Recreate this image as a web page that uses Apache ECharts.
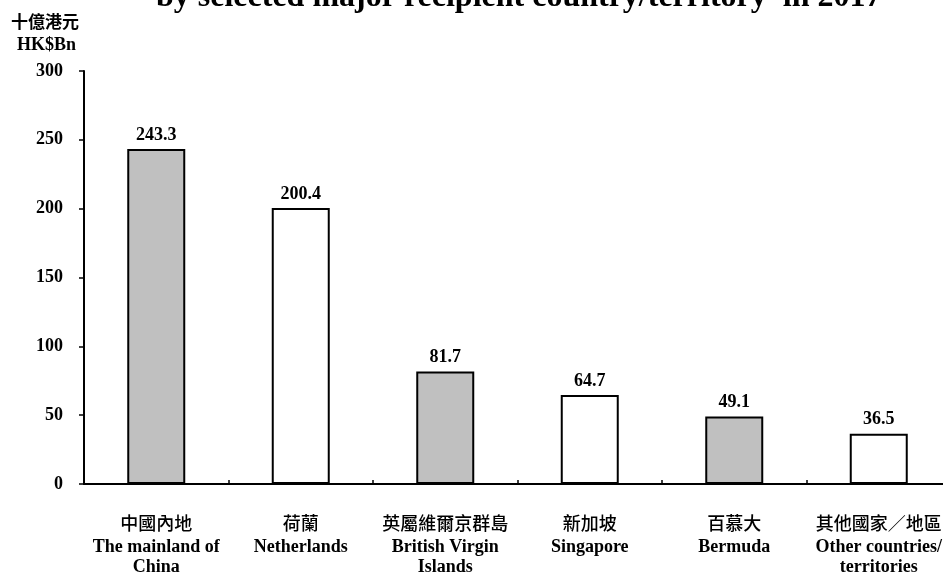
<!DOCTYPE html>
<html>
<head>
<meta charset="utf-8">
<script src="https://cdn.jsdelivr.net/npm/echarts@6/dist/echarts.min.js"></script>
<style>html,body{margin:0;padding:0;background:#fff;}#c{width:943px;height:574px;}</style>
</head>
<body>
<div id="c"></div>
<script>
const categoriesCn = ['中國內地', '荷蘭', '英屬維爾京群島', '新加坡', '百慕大', '其他國家／地區'];
const categoriesEn = ['The mainland of\nChina', 'Netherlands', 'British Virgin\nIslands', 'Singapore', 'Bermuda', 'Other countries/\nterritories'];
const values = [243.3, 200.4, 81.7, 64.7, 49.1, 36.5];
const barColors = ['#c0c0c0', '#ffffff', '#c0c0c0', '#ffffff', '#c0c0c0', '#ffffff'];
const yTicks = [0, 50, 100, 150, 200, 250, 300];

const serif = '"Liberation Serif","Times New Roman",serif';
const cjk = '"Noto Sans CJK TC","Noto Sans CJK SC",sans-serif';

const chart = echarts.init(document.getElementById('c'));
chart.setOption({
  animation: false,
  backgroundColor: '#fff',
  title: {
    text: 'by selected major recipient country/territory  in 2017',
    left: 151, top: -23,
    textStyle: { fontFamily: serif, fontWeight: 'bold', fontSize: 32, color: '#000' }
  },
  graphic: [
    { type: 'text', left: 11, top: 13, style: { text: '十億港元', font: 'bold 17px ' + cjk, fill: '#000' } },
    { type: 'text', left: 17, top: 36, style: { text: 'HK$Bn', font: 'bold 18px ' + serif, fill: '#000' } }
  ],
  grid: { left: 84, top: 71, width: 867, height: 413, containLabel: false, outerBoundsMode: 'none' },
  xAxis: {
    type: 'category',
    data: categoriesCn.map((c, i) => c + '|' + categoriesEn[i]),
    axisLine: { lineStyle: { color: '#000', width: 2 } },
    axisTick: { show: true, inside: true, length: 4, lineStyle: { color: '#000', width: 1.5 } },
    axisLabel: {
      interval: 0,
      margin: 26,
      formatter: function (v) {
        const parts = v.split('|');
        const en = parts[1].split('\n').map(s => '{en|' + s + '}').join('\n');
        return '{cn|' + parts[0] + '}\n' + en;
      },
      rich: {
        cn: { fontFamily: cjk, fontWeight: 500, fontSize: 18, color: '#000', lineHeight: 27 },
        en: { fontFamily: serif, fontWeight: 'bold', fontSize: 18, color: '#000', lineHeight: 20 }
      }
    }
  },
  yAxis: {
    type: 'value',
    min: 0, max: 300, interval: 50,
    splitLine: { show: false },
    axisLine: { show: true, lineStyle: { color: '#000', width: 2 } },
    axisTick: { show: true, length: 5, lineStyle: { color: '#000', width: 1.5 } },
    axisLabel: {
      margin: 21,
      fontFamily: serif, fontWeight: 'bold', fontSize: 18, color: '#000',
      formatter: v => yTicks.includes(v) ? String(v) : ''
    }
  },
  series: [{
    type: 'bar',
    data: values.map((v, i) => ({ value: v, itemStyle: { color: barColors[i] } })),
    barWidth: 58,
    itemStyle: { borderColor: '#000', borderWidth: 2 },
    label: {
      show: true, position: 'top', distance: 5,
      fontFamily: serif, fontWeight: 'bold', fontSize: 18, color: '#000',
      formatter: p => p.value.toFixed(1)
    }
  }]
});
</script>
</body>
</html>
